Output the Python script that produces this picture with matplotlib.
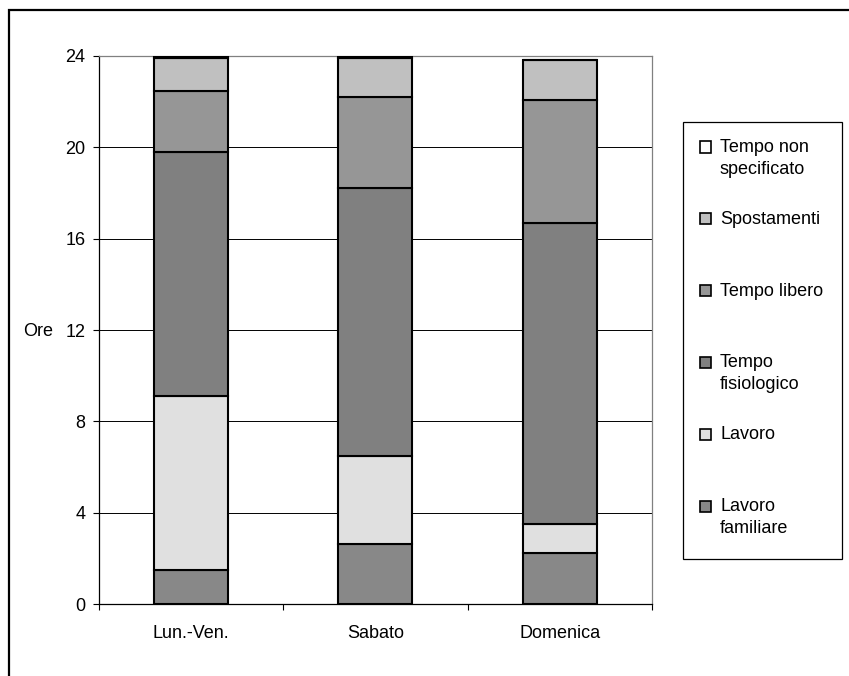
import numpy as np
import matplotlib.pyplot as plt
from matplotlib.patches import Rectangle

plt.rcParams['font.family'] = ['Liberation Sans', 'DejaVu Sans']
plt.rcParams['font.size'] = 13

# Data (hours per day, stacked bottom -> top)
days = ["Lun.-Ven.", "Sabato", "Domenica"]
series_names = ["Lavoro\nfamiliare", "Lavoro", "Tempo\nfisiologico",
                "Tempo libero", "Spostamenti", "Tempo non\nspecificato"]
lavoro_familiare = [1.49, 2.62, 2.25]
lavoro = [7.61, 3.87, 1.25]
tempo_fisiologico = [10.68, 11.71, 13.20]
tempo_libero = [2.67, 4.00, 5.37]
spostamenti = [1.45, 1.70, 1.76]
non_specificato = [0.10, 0.10, 0.00]

series = [lavoro_familiare, lavoro, tempo_fisiologico,
          tempo_libero, spostamenti, non_specificato]
colors = ["#888888", "#e0e0e0", "#808080", "#969696", "#c0c0c0", "#ffffff"]

W, H = 849, 676
fig = plt.figure(figsize=(W / 100, H / 100), dpi=100)

def fx(x):
    return x / W

def fy(y):
    return 1 - y / H

# outer chart frame (cut off at right/bottom like the original)
fig.patches.append(Rectangle((fx(9), fy(700)), fx(900) - fx(9), fy(10) - fy(700),
                             transform=fig.transFigure, fill=False,
                             edgecolor="black", linewidth=1.6))

ax = fig.add_axes([fx(98.5), fy(604.3), fx(652) - fx(98.5), fy(55.8) - fy(604.3)])

x = np.arange(len(days))
bottom = np.zeros(len(days))
for vals, c in zip(series, colors):
    ax.bar(x, vals, bottom=bottom, width=0.4, color=c, edgecolor="black",
           linewidth=1.5, zorder=3)
    bottom += np.array(vals)

ax.set_xlim(-0.5, len(days) - 0.5)
ax.set_ylim(0, 24)
ax.set_yticks(np.arange(0, 25, 4))
ax.set_xticks(x)
ax.set_xticklabels(days)
ax.set_xticks(np.arange(-0.5, len(days), 1), minor=True)
ax.tick_params(axis="x", which="major", length=0, pad=15)
ax.tick_params(axis="x", which="minor", length=4.2, width=0.8, direction="out")
ax.tick_params(axis="y", length=4.5, width=0.8, pad=5)
ax.yaxis.grid(True, color="black", linewidth=0.7, zorder=0)
ax.set_axisbelow(True)

for s in ["left", "bottom"]:
    ax.spines[s].set_color("black")
    ax.spines[s].set_linewidth(0.9)
for s in ["top", "right"]:
    ax.spines[s].set_color("#808080")
    ax.spines[s].set_linewidth(0.9)

fig.text(fx(38), fy(331), "Ore", ha="center", va="center")

# legend drawn by hand to match the original layout
fig.patches.append(Rectangle((fx(682.5), fy(559)), fx(841.5) - fx(682.5), fy(122) - fy(559),
                             transform=fig.transFigure, fill=False,
                             edgecolor="black", linewidth=0.9))
y0, step = 147, 71.8
for i, k in enumerate(range(len(series) - 1, -1, -1)):
    cy = y0 + i * step
    fig.patches.append(Rectangle((fx(700), fy(cy + 5.5)), fx(11), 11 / H,
                                 transform=fig.transFigure, facecolor=colors[k],
                                 edgecolor="black", linewidth=1.2))
    fig.text(fx(720), fy(cy - 8), series_names[k], ha="left", va="top",
             linespacing=1.39)

fig.savefig("out.png", dpi=100)
